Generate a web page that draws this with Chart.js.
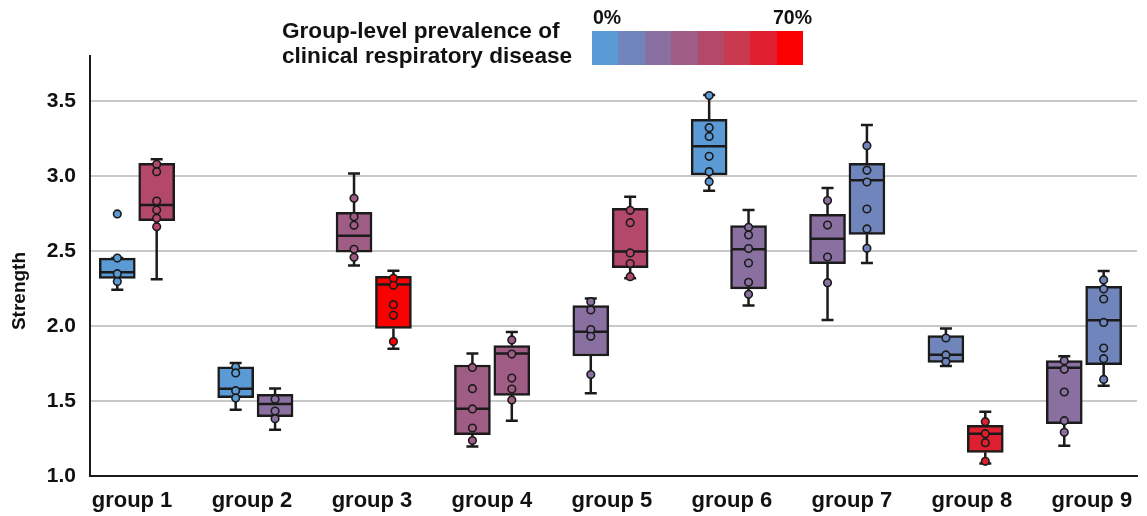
<!DOCTYPE html>
<html>
<head>
<meta charset="utf-8">
<script src="https://cdn.jsdelivr.net/npm/chart.js@4/dist/chart.umd.min.js"></script>
<style>
  body { margin: 0; background: #fff; }
  #wrap { position: relative; width: 1147px; height: 516px; font-family: "Liberation Sans", Arial, sans-serif; font-weight: bold; color: #111; }
  #chart { position: absolute; left: 0; top: 0; }
  .legTitle { position: absolute; left: 282px; top: 18px; font-size: 22.6px; line-height: 25px; white-space: nowrap; }
  .bar { position: absolute; left: 592px; top: 31px; width: 211px; height: 34px; display: flex; }
  .bar div { flex: 1; }
  .pct { position: absolute; top: 7px; font-size: 19.5px; line-height: 20px; }
  .ytitle { position: absolute; left: -41px; top: 280px; width: 120px; height: 22px; line-height: 22px; font-size: 19px; text-align: center; transform: rotate(-90deg); }
</style>
</head>
<body>
<div id="wrap">
  <canvas id="chart" width="1147" height="516"></canvas>
  <div class="legTitle">Group-level prevalence of<br>clinical respiratory disease</div>
  <div class="bar" id="colorBar"></div>
  <div class="pct" style="left:593px">0%</div>
  <div class="pct" style="right:335px">70%</div>
  <div class="ytitle">Strength</div>
</div>
<script>
// prevalence colour scale, 0% -> 70%
const binColors = ["#5b9bd5", "#6f85bb", "#8a70a0", "#9f5c84", "#b3486a", "#c9394f", "#dd1f2f", "#fb0000"];

const groups = ["group 1", "group 2", "group 3", "group 4", "group 5", "group 6", "group 7", "group 8", "group 9"];
const yTicks = [1.0, 1.5, 2.0, 2.5, 3.0, 3.5];

// left box of each group
const leftQ1  = [2.318, 1.522, 2.493, 1.276, 1.800, 3.007, 2.416, 1.758, 1.349];
const leftMed = [2.358, 1.582, 2.602, 1.449, 1.962, 3.198, 2.582, 1.809, 1.722];
const leftQ3  = [2.453, 1.727, 2.758, 1.740, 2.136, 3.378, 2.744, 1.936, 1.769];
const leftLo  = [2.242, 1.442, 2.404, 1.196, 1.551, 2.902, 2.040, 1.733, 1.202];
const leftHi  = [2.453, 1.753, 3.016, 1.816, 2.184, 3.540, 2.920, 1.984, 1.798];
const leftBin = [0, 0, 3, 3, 2, 0, 2, 1, 2];
const leftPoints = [
  [2.747, 2.453, 2.349, 2.296],
  [1.727, 1.687, 1.569, 1.520],
  [2.851, 2.729, 2.671, 2.511, 2.458],
  [1.724, 1.582, 1.447, 1.320, 1.236],
  [2.162, 2.107, 1.976, 1.931, 1.676],
  [3.536, 3.322, 3.264, 3.131, 3.029, 2.962],
  [2.836, 2.673, 2.460, 2.289],
  [1.920, 1.807, 1.762],
  [1.769, 1.711, 1.560, 1.369, 1.291]
];

// right box of each group
const rightQ1  = [2.702, 1.396, 1.984, 1.538, 2.389, 2.247, 2.611, 1.158, 1.742];
const rightMed = [2.807, 1.480, 2.276, 1.816, 2.496, 2.511, 2.971, 1.282, 2.038];
const rightQ3  = [3.084, 1.544, 2.331, 1.869, 2.784, 2.669, 3.084, 1.338, 2.264];
const rightLo  = [2.311, 1.309, 1.849, 1.369, 2.318, 2.136, 2.420, 1.084, 1.602];
const rightHi  = [3.111, 1.584, 2.369, 1.960, 2.862, 2.773, 3.340, 1.429, 2.367];
const rightBin = [4, 2, 7, 3, 4, 2, 1, 6, 1];
const rightPoints = [
  [3.078, 3.029, 2.833, 2.773, 2.718, 2.662],
  [1.511, 1.433, 1.382],
  [2.318, 2.271, 2.142, 2.071, 1.896],
  [1.907, 1.813, 1.653, 1.580, 1.507],
  [2.771, 2.689, 2.487, 2.416, 2.329],
  [2.658, 2.607, 2.516, 2.420, 2.291, 2.211],
  [3.202, 3.038, 2.960, 2.780, 2.647, 2.518],
  [1.362, 1.282, 1.222, 1.098],
  [2.307, 2.247, 2.180, 2.024, 1.853, 1.782, 1.644]
];

const bar = document.getElementById("colorBar");
binColors.forEach(c => {
  const d = document.createElement("div");
  d.style.background = c;
  bar.appendChild(d);
});

const off = 0.1664;   // half distance between the two boxes of a group
const boxW = 36;
const ink = "#1b1b1b";
// the group labels sit on a slightly wider pitch than the boxes
const labelStart = 0.958, labelStep = 1.0135;

const boxes = [];
groups.forEach((g, i) => {
  boxes.push({ x: i + 1 - off, q1: leftQ1[i], med: leftMed[i], q3: leftQ3[i], lo: leftLo[i], hi: leftHi[i], color: binColors[leftBin[i]], pts: leftPoints[i] });
  boxes.push({ x: i + 1 + off, q1: rightQ1[i], med: rightMed[i], q3: rightQ3[i], lo: rightLo[i], hi: rightHi[i], color: binColors[rightBin[i]], pts: rightPoints[i] });
});

const pointData = [];
const pointColors = [];
boxes.forEach(b => {
  b.pts.forEach(v => {
    pointData.push({ x: b.x, y: v });
    pointColors.push(b.color);
  });
});

// whiskers behind the boxes, medians on top of them
const boxParts = {
  id: "boxParts",
  beforeDatasetsDraw(chart) {
    const { ctx, scales: { x, y } } = chart;
    ctx.save();
    ctx.strokeStyle = ink;
    ctx.lineWidth = 2.5;
    boxes.forEach(b => {
      const px = x.getPixelForValue(b.x);
      ctx.beginPath();
      ctx.moveTo(px, y.getPixelForValue(b.hi));
      ctx.lineTo(px, y.getPixelForValue(b.q3));
      ctx.moveTo(px, y.getPixelForValue(b.q1));
      ctx.lineTo(px, y.getPixelForValue(b.lo));
      ctx.moveTo(px - 6, y.getPixelForValue(b.hi));
      ctx.lineTo(px + 6, y.getPixelForValue(b.hi));
      ctx.moveTo(px - 6, y.getPixelForValue(b.lo));
      ctx.lineTo(px + 6, y.getPixelForValue(b.lo));
      ctx.stroke();
    });
    ctx.restore();
  },
  afterDatasetDraw(chart, args) {
    if (args.meta.type !== "bar") return;
    const { ctx, scales: { x, y } } = chart;
    ctx.save();
    ctx.strokeStyle = ink;
    ctx.lineWidth = 2.5;
    boxes.forEach(b => {
      const px = x.getPixelForValue(b.x);
      const py = y.getPixelForValue(b.med);
      ctx.beginPath();
      ctx.moveTo(px - boxW / 2 + 1, py);
      ctx.lineTo(px + boxW / 2 - 1, py);
      ctx.stroke();
    });
    ctx.restore();
  }
};

const ctx = document.getElementById("chart").getContext("2d");
new Chart(ctx, {
  type: "bar",
  data: {
    datasets: [
      {
        type: "scatter",
        order: 0,
        data: pointData,
        pointRadius: 3.8,
        pointBorderWidth: 1.6,
        pointBackgroundColor: pointColors,
        pointBorderColor: ink,
        showLine: false
      },
      {
        type: "bar",
        order: 1,
        data: boxes.map(b => ({ x: b.x, y: [b.q1, b.q3] })),
        backgroundColor: boxes.map(b => b.color),
        borderColor: ink,
        borderWidth: 2.5,
        borderSkipped: false,
        barThickness: boxW
      }
    ]
  },
  options: {
    responsive: false,
    animation: false,
    layout: { padding: { top: 56, right: 10, left: 0, bottom: 0 } },
    plugins: { legend: { display: false }, tooltip: { enabled: false } },
    scales: {
      x: {
        type: "linear",
        offset: false,
        min: 0.603,
        max: 9.448,
        afterBuildTicks: s => { s.ticks = groups.map((g, i) => ({ value: labelStart + i * labelStep })); },
        afterFit: s => { s.height = 40; },
        grid: { display: false, drawTicks: false },
        border: { color: ink, width: 2 },
        ticks: {
          autoSkip: false,
          maxRotation: 0,
          padding: 12,
          color: "#111",
          font: { family: "Liberation Sans", size: 22, weight: "bold" },
          callback: (v, i) => groups[i]
        }
      },
      y: {
        min: 1.0,
        max: 3.8,
        afterBuildTicks: s => { s.ticks = yTicks.map(v => ({ value: v })); },
        afterFit: s => { s.width = 90; },
        grid: { color: "#c8c8c8", lineWidth: 2, drawTicks: false },
        border: { color: ink, width: 2 },
        ticks: {
          padding: 14,
          color: "#111",
          font: { family: "Liberation Sans", size: 21, weight: "bold" },
          callback: v => v.toFixed(1)
        }
      }
    }
  },
  plugins: [boxParts]
});
</script>
</body>
</html>
